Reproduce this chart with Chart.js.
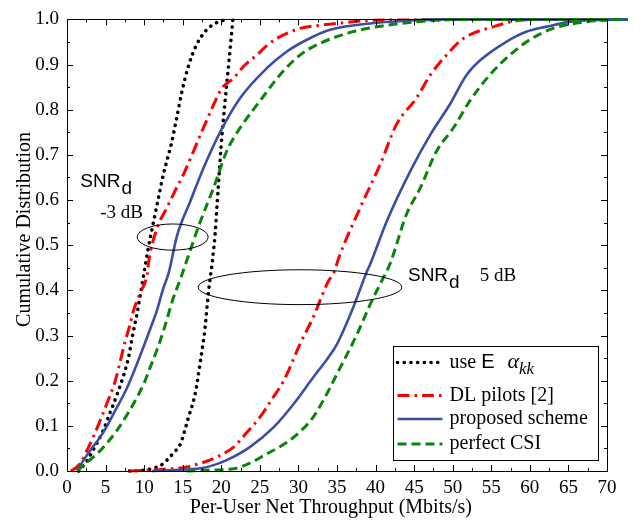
<!DOCTYPE html>
<html>
<head>
<meta charset="utf-8">
<script src="https://cdn.jsdelivr.net/npm/chart.js@4.4.0/dist/chart.umd.min.js"></script>
<style>
  html, body { margin: 0; padding: 0; background: #fff; }
  #wrap { width: 643px; height: 528px; }
</style>
</head>
<body>
<div id="wrap"><canvas id="cdfChart" width="643" height="528"></canvas></div>
<script>
const SERIF = '"Liberation Serif", "Times New Roman", serif';
const SANS = '"Liberation Sans", Arial, sans-serif';

// SNR_d = -3 dB curves
const lowDotX = [1.5, 2.5, 3.5, 4.7, 5.6, 6.5, 7.3, 7.96, 8.5, 9.07, 9.5, 9.9, 10.5, 11.2, 11.8, 12.5, 13.6, 14.2, 14.9, 15.8, 16.8, 18.0, 19.2, 20.3, 21.0];
const lowDotY = [0, 0.02, 0.05, 0.09, 0.13, 0.17, 0.21, 0.25, 0.3, 0.348, 0.39, 0.43, 0.49, 0.55, 0.6, 0.657, 0.73, 0.78, 0.84, 0.9, 0.944, 0.975, 0.991, 0.998, 1.0];

const lowRedX = [0.5, 1.3, 2.0, 2.6, 3.4, 4.3, 5.3, 6.26, 7.0, 7.55, 8.1, 8.6, 9.5, 10.4, 10.6, 11.7, 12.95, 14.0, 15.1, 16.2, 17.3, 18.2, 19.0, 20.1, 21.6, 23.0, 24.6, 25.9, 27.2, 30.2, 32.8, 36, 39.7, 45, 55, 72.7];
const lowRedY = [0, 0.009, 0.025, 0.046, 0.075, 0.112, 0.155, 0.2, 0.25, 0.288, 0.32, 0.354, 0.395, 0.436, 0.465, 0.539, 0.583, 0.62, 0.657, 0.70, 0.745, 0.78, 0.811, 0.848, 0.87, 0.898, 0.921, 0.942, 0.958, 0.98, 0.987, 0.993, 0.998, 0.999, 1.0, 1.0];

const lowBlueX = [1.3, 2.15, 3.2, 4.3, 5.2, 6.04, 7.8, 8.9, 9.9, 10.8, 11.65, 12.4, 13.2, 14.25, 16.0, 17.7, 19.9, 22.45, 25.9, 28.5, 31.1, 34.1, 39.3, 44.9, 47.5, 72.7];
const lowBlueY = [0, 0.024, 0.05, 0.075, 0.1, 0.127, 0.185, 0.23, 0.274, 0.315, 0.355, 0.40, 0.44, 0.52, 0.598, 0.671, 0.752, 0.826, 0.892, 0.929, 0.955, 0.977, 0.991, 0.998, 1.0, 1.0];

const lowGreenX = [1.3, 2.5, 3.9, 5.2, 6.48, 7.8, 9.07, 10.0, 10.8, 11.7, 12.5, 13.8, 14.7, 15.5, 17.3, 19.0, 20.7, 22.45, 25.0, 27.6, 30.2, 32.8, 37.1, 41.45, 47.9, 52, 72.7];
const lowGreenY = [0, 0.018, 0.038, 0.062, 0.09, 0.125, 0.163, 0.195, 0.23, 0.27, 0.31, 0.384, 0.425, 0.465, 0.553, 0.627, 0.708, 0.76, 0.819, 0.877, 0.921, 0.947, 0.973, 0.987, 0.998, 1.0, 1.0];

// SNR_d = 5 dB curves
const highDotX = [8.1, 10, 11.2, 12.2, 12.95, 13.8, 14.7, 15.75, 16.6, 17.3, 17.9, 18.3, 18.6, 18.8, 19.2, 19.6, 20.1, 20.7, 21.2, 21.5];
const highDotY = [0, 0.002, 0.006, 0.013, 0.024, 0.04, 0.06, 0.119, 0.17, 0.244, 0.318, 0.39, 0.432, 0.458, 0.525, 0.627, 0.745, 0.855, 0.944, 1.0];

const highRedX = [8.1, 12, 15.5, 17.5, 19.4, 21.6, 23.3, 25.0, 26.6, 28.1, 30.2, 31.9, 33.9, 34.5, 35.4, 38.0, 40.6, 42.7, 45.3, 47.1, 49.2, 51.4, 55.3, 58.7, 62, 72.7];
const highRedY = [0, 0.003, 0.009, 0.018, 0.031, 0.053, 0.085, 0.119, 0.16, 0.2, 0.281, 0.34, 0.421, 0.436, 0.48, 0.583, 0.679, 0.767, 0.826, 0.877, 0.921, 0.958, 0.984, 0.998, 1.0, 1.0];

const highBlueX = [11, 14, 17.3, 19, 20.7, 23.7, 26.8, 29.4, 31.9, 33.9, 35.0, 37.1, 38.9, 39.3, 41.45, 44.5, 47.1, 49.6, 51.8, 53.6, 57.0, 59.6, 62.2, 65.2, 67.4, 72.7];
const highBlueY = [0, 0.002, 0.006, 0.013, 0.024, 0.053, 0.097, 0.149, 0.207, 0.252, 0.281, 0.362, 0.443, 0.458, 0.553, 0.664, 0.745, 0.811, 0.877, 0.91, 0.951, 0.973, 0.984, 0.995, 0.998, 1.0];

const highGreenX = [15.5, 18.5, 21.6, 23.8, 25.9, 27.7, 29.4, 31.9, 33.9, 35.0, 37.6, 39.3, 40.6, 41.9, 44.0, 45.8, 47.9, 50.1, 52.2, 54.8, 57.4, 60.0, 63.0, 67.4, 70, 72.7];
const highGreenY = [0, 0.002, 0.005, 0.018, 0.038, 0.055, 0.075, 0.119, 0.178, 0.215, 0.303, 0.369, 0.414, 0.46, 0.568, 0.627, 0.708, 0.76, 0.819, 0.877, 0.921, 0.955, 0.98, 0.995, 0.998, 1.0];

const legendLabels = ['use', 'DL pilots [2]', 'proposed scheme', 'perfect CSI'];
const xTitle = 'Per-User Net Throughput (Mbits/s)';
const yTitle = 'Cumulative Distribution';

// line looks, one per scheme
const looks = [
  { color: '#000000', width: 3.6, dash: [0.1, 6.6], cap: 'round' },
  { color: '#ff0000', width: 3, dash: [12, 5, 2.5, 5], cap: 'butt' },
  { color: '#3a4fa3', width: 2.6, dash: [], cap: 'butt' },
  { color: '#0a840a', width: 3, dash: [9, 5], cap: 'butt' }
];

function pts(xs, ys) {
  return xs.map((x, i) => ({ x: x, y: ys[i] }));
}

function makeSet(xs, ys, look) {
  return {
    data: pts(xs, ys),
    showLine: true,
    borderColor: look.color,
    borderWidth: look.width,
    borderDash: look.dash,
    borderCapStyle: look.cap,
    pointRadius: 0,
    cubicInterpolationMode: 'monotone',
    clip: { left: 2, top: 3, right: 22, bottom: 3 }
  };
}

// ellipses and SNR notes, in data units
const rings = [
  { cx: 13.7, cy: 0.518, rx: 4.6, ry: 0.029 },
  { cx: 30.2, cy: 0.407, rx: 13.2, ry: 0.0386 }
];
const notes = [
  { x: 1.72, y: 0.64, snr: true },
  { x: 4.31, y: 0.571, text: '-3 dB' },
  { x: 44.2, y: 0.432, snr: true },
  { x: 53.5, y: 0.432, text: '5 dB' }
];

const extrasPlugin = {
  id: 'extras',
  afterDatasetsDraw(chart) {
    const { ctx, chartArea: a, scales: { x, y } } = chart;
    ctx.save();

    // frame + inward ticks
    ctx.strokeStyle = '#000';
    ctx.lineWidth = 1;
    ctx.setLineDash([]);
    ctx.strokeRect(Math.round(a.left) + 0.5, Math.round(a.top) + 0.5,
      Math.round(a.right - a.left), Math.round(a.bottom - a.top));
    ctx.beginPath();
    for (let i = 0; i <= 28; i++) {
      const px = Math.round(x.getPixelForValue(i * 2.5)) + 0.5;
      const len = i % 2 === 0 ? 6 : 3;
      ctx.moveTo(px, a.bottom); ctx.lineTo(px, a.bottom - len);
      ctx.moveTo(px, a.top); ctx.lineTo(px, a.top + len);
    }
    for (let i = 0; i <= 20; i++) {
      const py = Math.round(y.getPixelForValue(i * 0.05)) + 0.5;
      const len = i % 2 === 0 ? 6 : 3;
      ctx.moveTo(a.left, py); ctx.lineTo(a.left + len, py);
      ctx.moveTo(a.right, py); ctx.lineTo(a.right - len, py);
    }
    ctx.stroke();

    // axis titles
    ctx.fillStyle = '#000';
    ctx.textBaseline = 'middle';
    ctx.textAlign = 'center';
    ctx.font = '20px ' + SERIF;
    ctx.fillText(xTitle, x.getPixelForValue(34.2), a.bottom + 37);
    ctx.save();
    ctx.translate(25, y.getPixelForValue(0.535));
    ctx.rotate(-Math.PI / 2);
    ctx.fillText(yTitle, 0, 0);
    ctx.restore();

    // ellipses
    rings.forEach(r => {
      const cx = x.getPixelForValue(r.cx), cy = y.getPixelForValue(r.cy);
      const rx = x.getPixelForValue(r.cx + r.rx) - cx;
      const ry = cy - y.getPixelForValue(r.cy + r.ry);
      ctx.beginPath();
      ctx.ellipse(cx, cy, rx, ry, 0, 0, Math.PI * 2);
      ctx.stroke();
    });

    // SNR notes
    ctx.textAlign = 'left';
    notes.forEach(n => {
      const px = x.getPixelForValue(n.x), py = y.getPixelForValue(n.y);
      if (n.snr) {
        ctx.font = '19px ' + SANS;
        ctx.fillText('SNR', px, py);
        const w = ctx.measureText('SNR').width;
        ctx.fillText('d', px + w + 1, py + 7);
      } else {
        ctx.font = '19px ' + SERIF;
        ctx.fillText(n.text, px, py);
      }
    });

    // legend box
    const bw = 205, bh = 114;
    const bx = Math.round(a.right - 9 - bw) + 0.5;
    const by = Math.round(a.bottom - 11 - bh) + 0.5;
    ctx.fillStyle = '#fff';
    ctx.fillRect(bx, by, bw, bh);
    ctx.strokeStyle = '#000';
    ctx.lineWidth = 1;
    ctx.strokeRect(bx, by, bw, bh);
    const rowY = [16, 49, 72.5, 97.5];
    legendLabels.forEach((label, i) => {
      const lk = looks[i];
      const ly = by + rowY[i];
      ctx.beginPath();
      ctx.strokeStyle = lk.color;
      ctx.lineWidth = lk.width;
      ctx.lineCap = lk.cap;
      ctx.setLineDash(lk.dash);
      ctx.moveTo(bx + 4, ly);
      ctx.lineTo(bx + 49, ly);
      ctx.stroke();
      ctx.setLineDash([]);
      ctx.lineCap = 'butt';
      ctx.fillStyle = '#000';
      ctx.font = '20px ' + SERIF;
      let tx = bx + 56;
      ctx.fillText(label, tx, ly);
      if (i === 0) {
        tx += ctx.measureText(label + ' ').width;
        ctx.font = '20px ' + SANS;
        ctx.fillText('E', tx, ly);
        tx += ctx.measureText('E').width + 13;
        ctx.font = 'italic 22px ' + SERIF;
        ctx.fillText('\u03B1', tx, ly);
        tx += ctx.measureText('\u03B1').width;
        ctx.font = 'italic 17px ' + SERIF;
        ctx.fillText('kk', tx, ly + 7);
      }
    });

    ctx.restore();
  }
};

const ctx = document.getElementById('cdfChart').getContext('2d');
new Chart(ctx, {
  type: 'scatter',
  data: {
    datasets: [
      makeSet(lowGreenX, lowGreenY, looks[3]),
      makeSet(highGreenX, highGreenY, looks[3]),
      makeSet(lowBlueX, lowBlueY, looks[2]),
      makeSet(highBlueX, highBlueY, looks[2]),
      makeSet(lowRedX, lowRedY, looks[1]),
      makeSet(highRedX, highRedY, looks[1]),
      makeSet(lowDotX, lowDotY, looks[0]),
      makeSet(highDotX, highDotY, looks[0])
    ]
  },
  options: {
    responsive: false,
    animation: false,
    layout: { padding: { top: 17, right: 36, left: 0, bottom: 0 } },
    plugins: { legend: { display: false }, tooltip: { enabled: false } },
    scales: {
      x: {
        type: 'linear', min: 0, max: 70,
        grid: { display: false, drawTicks: false },
        border: { display: false },
        ticks: { stepSize: 5, padding: 6, color: '#000', maxRotation: 0, autoSkip: false,
                 font: { family: SERIF, size: 19 } },
        afterFit(scale) { scale.height = 57; }
      },
      y: {
        type: 'linear', min: 0, max: 1,
        grid: { display: false, drawTicks: false },
        border: { display: false },
        ticks: { stepSize: 0.1, padding: 8, color: '#000',
                 font: { family: SERIF, size: 19 },
                 callback: v => v.toFixed(1) },
        afterFit(scale) { scale.width = 67; }
      }
    }
  },
  plugins: [extrasPlugin]
});
</script>
</body>
</html>
